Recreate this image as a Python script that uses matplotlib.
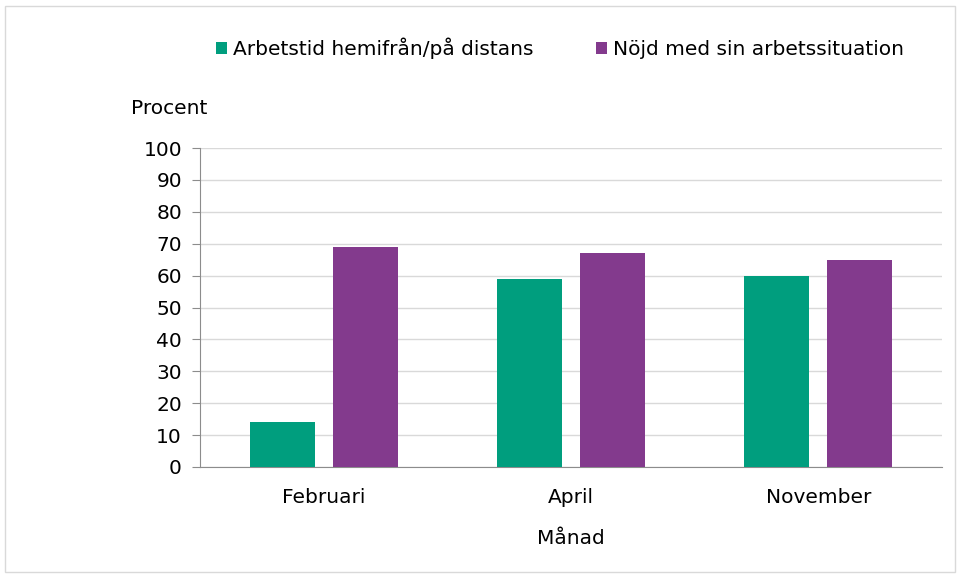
#! /usr/bin/env python3

import matplotlib
matplotlib.use('Agg')
import matplotlib.pyplot as plt
from matplotlib.patches import Rectangle
import numpy as np

months = ['Februari', 'April', 'November']
distans = [14, 59, 60]
nojd = [69, 67, 65]
series_names = ['Arbetstid hemifrån/på distans', 'Nöjd med sin arbetssituation']
yticks = [0, 10, 20, 30, 40, 50, 60, 70, 80, 90, 100]

green = '#009E7E'
purple = '#833A8D'

plt.rcParams['font.family'] = ['DejaVu Sans']
fs = 14.5


def main():
    fig = plt.figure(figsize=(9.59, 5.75), dpi=100)
    ax = fig.add_axes([200/959, 1-467/575, 742/959, 319/575])

    x = np.arange(len(months))
    w = 0.263
    gap = 0.073
    ax.bar(x - (w + gap)/2, distans, w, color=green, label=series_names[0], zorder=3)
    ax.bar(x + (w + gap)/2, nojd, w, color=purple, label=series_names[1], zorder=3)

    ax.set_xlim(-0.5, 2.5)
    ax.set_ylim(0, 100)
    ax.set_yticks(yticks)
    ax.set_xticks(x)
    ax.set_xticklabels(months, fontsize=fs)
    ax.tick_params(axis='y', labelsize=fs, length=6, color='#8C8C8C', pad=7)
    ax.tick_params(axis='x', length=0, pad=15)
    ax.grid(axis='y', color='#D9D9D9', linewidth=1, zorder=0)
    for s in ['top', 'right']:
        ax.spines[s].set_visible(False)
    for s in ['left', 'bottom']:
        ax.spines[s].set_color('#8C8C8C')

    ax.set_xlabel('Månad', fontsize=fs, labelpad=16)
    fig.text(131/959, 1-108/575, 'Procent', fontsize=fs, va='center', ha='left')

    fig.legend(loc='center', bbox_to_anchor=(560/959, 1-48/575), ncol=2, frameon=False,
               fontsize=fs, handlelength=0.55, handleheight=0.55, handletextpad=0.3,
               columnspacing=3.1)

    fig.patches.append(Rectangle((5/959, 3/575), 950/959, 566/575, transform=fig.transFigure,
                                 fill=False, edgecolor='#D9D9D9', linewidth=1))

    fig.savefig('out.png', dpi=100)


if __name__ == '__main__':
    main()
